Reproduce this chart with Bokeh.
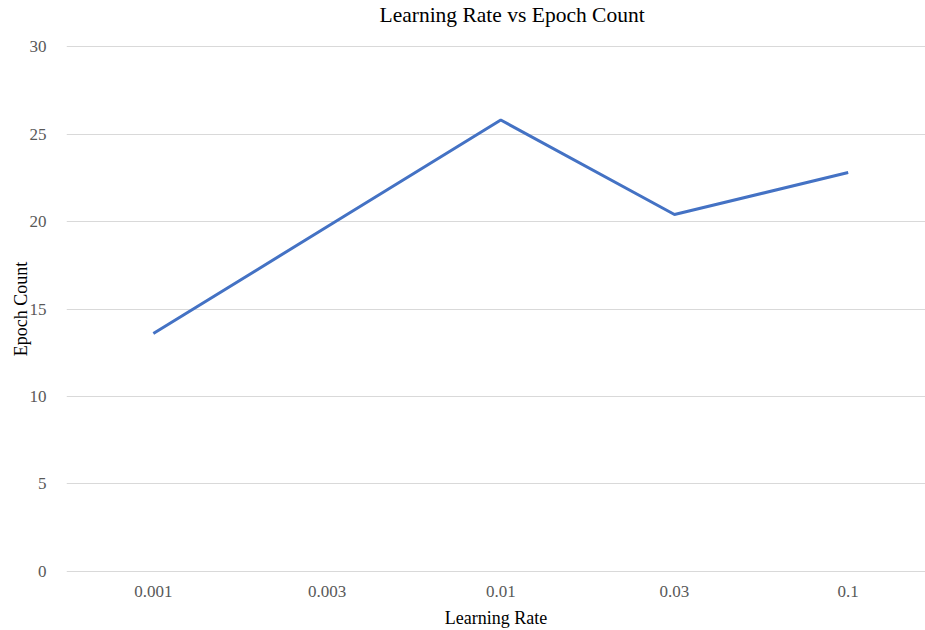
from bokeh.plotting import figure
from bokeh.models import ColumnDataSource, Range1d, FixedTicker, Title
from bokeh.embed import file_html
from bokeh.resources import INLINE

learning_rates = ["0.001", "0.003", "0.01", "0.03", "0.1"]
epoch_counts = [13.6, 19.7, 25.8, 20.4, 22.8]
y_ticks = [0, 5, 10, 15, 20, 25, 30]
title_text = "Learning Rate vs Epoch Count"

FONT = "Liberation Serif"
idx = list(range(len(learning_rates)))
src = ColumnDataSource(dict(x=idx, y=epoch_counts, label=learning_rates))

p = figure(
    frame_width=859, frame_height=527,
    min_border_left=66, min_border_right=0, min_border_top=45, min_border_bottom=58,
    x_range=Range1d(-0.5, 4.445), y_range=Range1d(-0.06, 30.06),
    output_backend="svg", toolbar_location=None,
)
p.outline_line_color = None
p.background_fill_color = "white"
p.border_fill_color = "white"

# spacer between plot area and title, then the title itself
p.add_layout(Title(text=" ", text_font_size="10px", standoff=6), "above")
p.add_layout(Title(
    text=title_text, align="left", offset=313, standoff=0,
    text_font=FONT, text_font_size="21.5px", text_font_style="normal",
    text_color="#000000",
), "above")

p.line("x", "y", source=src, line_color="#4472C4", line_width=3)

p.xaxis.ticker = FixedTicker(ticks=idx)
p.xaxis.major_label_overrides = {i: l for i, l in zip(idx, learning_rates)}
p.yaxis.ticker = FixedTicker(ticks=y_ticks)

for ax in (p.xaxis[0], p.yaxis[0]):
    ax.axis_line_color = None
    ax.major_tick_line_color = None
    ax.minor_tick_line_color = None
    ax.major_label_text_font = FONT
    ax.major_label_text_font_size = "17px"
    ax.major_label_text_color = "#595959"
    ax.axis_label_text_font = FONT
    ax.axis_label_text_font_size = "18px"
    ax.axis_label_text_font_style = "normal"
    ax.axis_label_text_color = "#000000"

p.yaxis.major_tick_out = 0
p.yaxis.major_tick_in = 0
p.yaxis.minor_tick_out = 0
p.yaxis.minor_tick_in = 0

p.xaxis.axis_label = "Learning Rate"
p.yaxis.axis_label = "Epoch Count"
p.xaxis.major_label_standoff = 7
p.xaxis.axis_label_standoff = 8
p.yaxis.major_label_standoff = 20
p.yaxis.axis_label_standoff = -4

p.xgrid.grid_line_color = None
p.ygrid.grid_line_color = "#d9d9d9"
p.ygrid.grid_line_width = 1

open("out.html", "w").write(file_html(p, INLINE))
